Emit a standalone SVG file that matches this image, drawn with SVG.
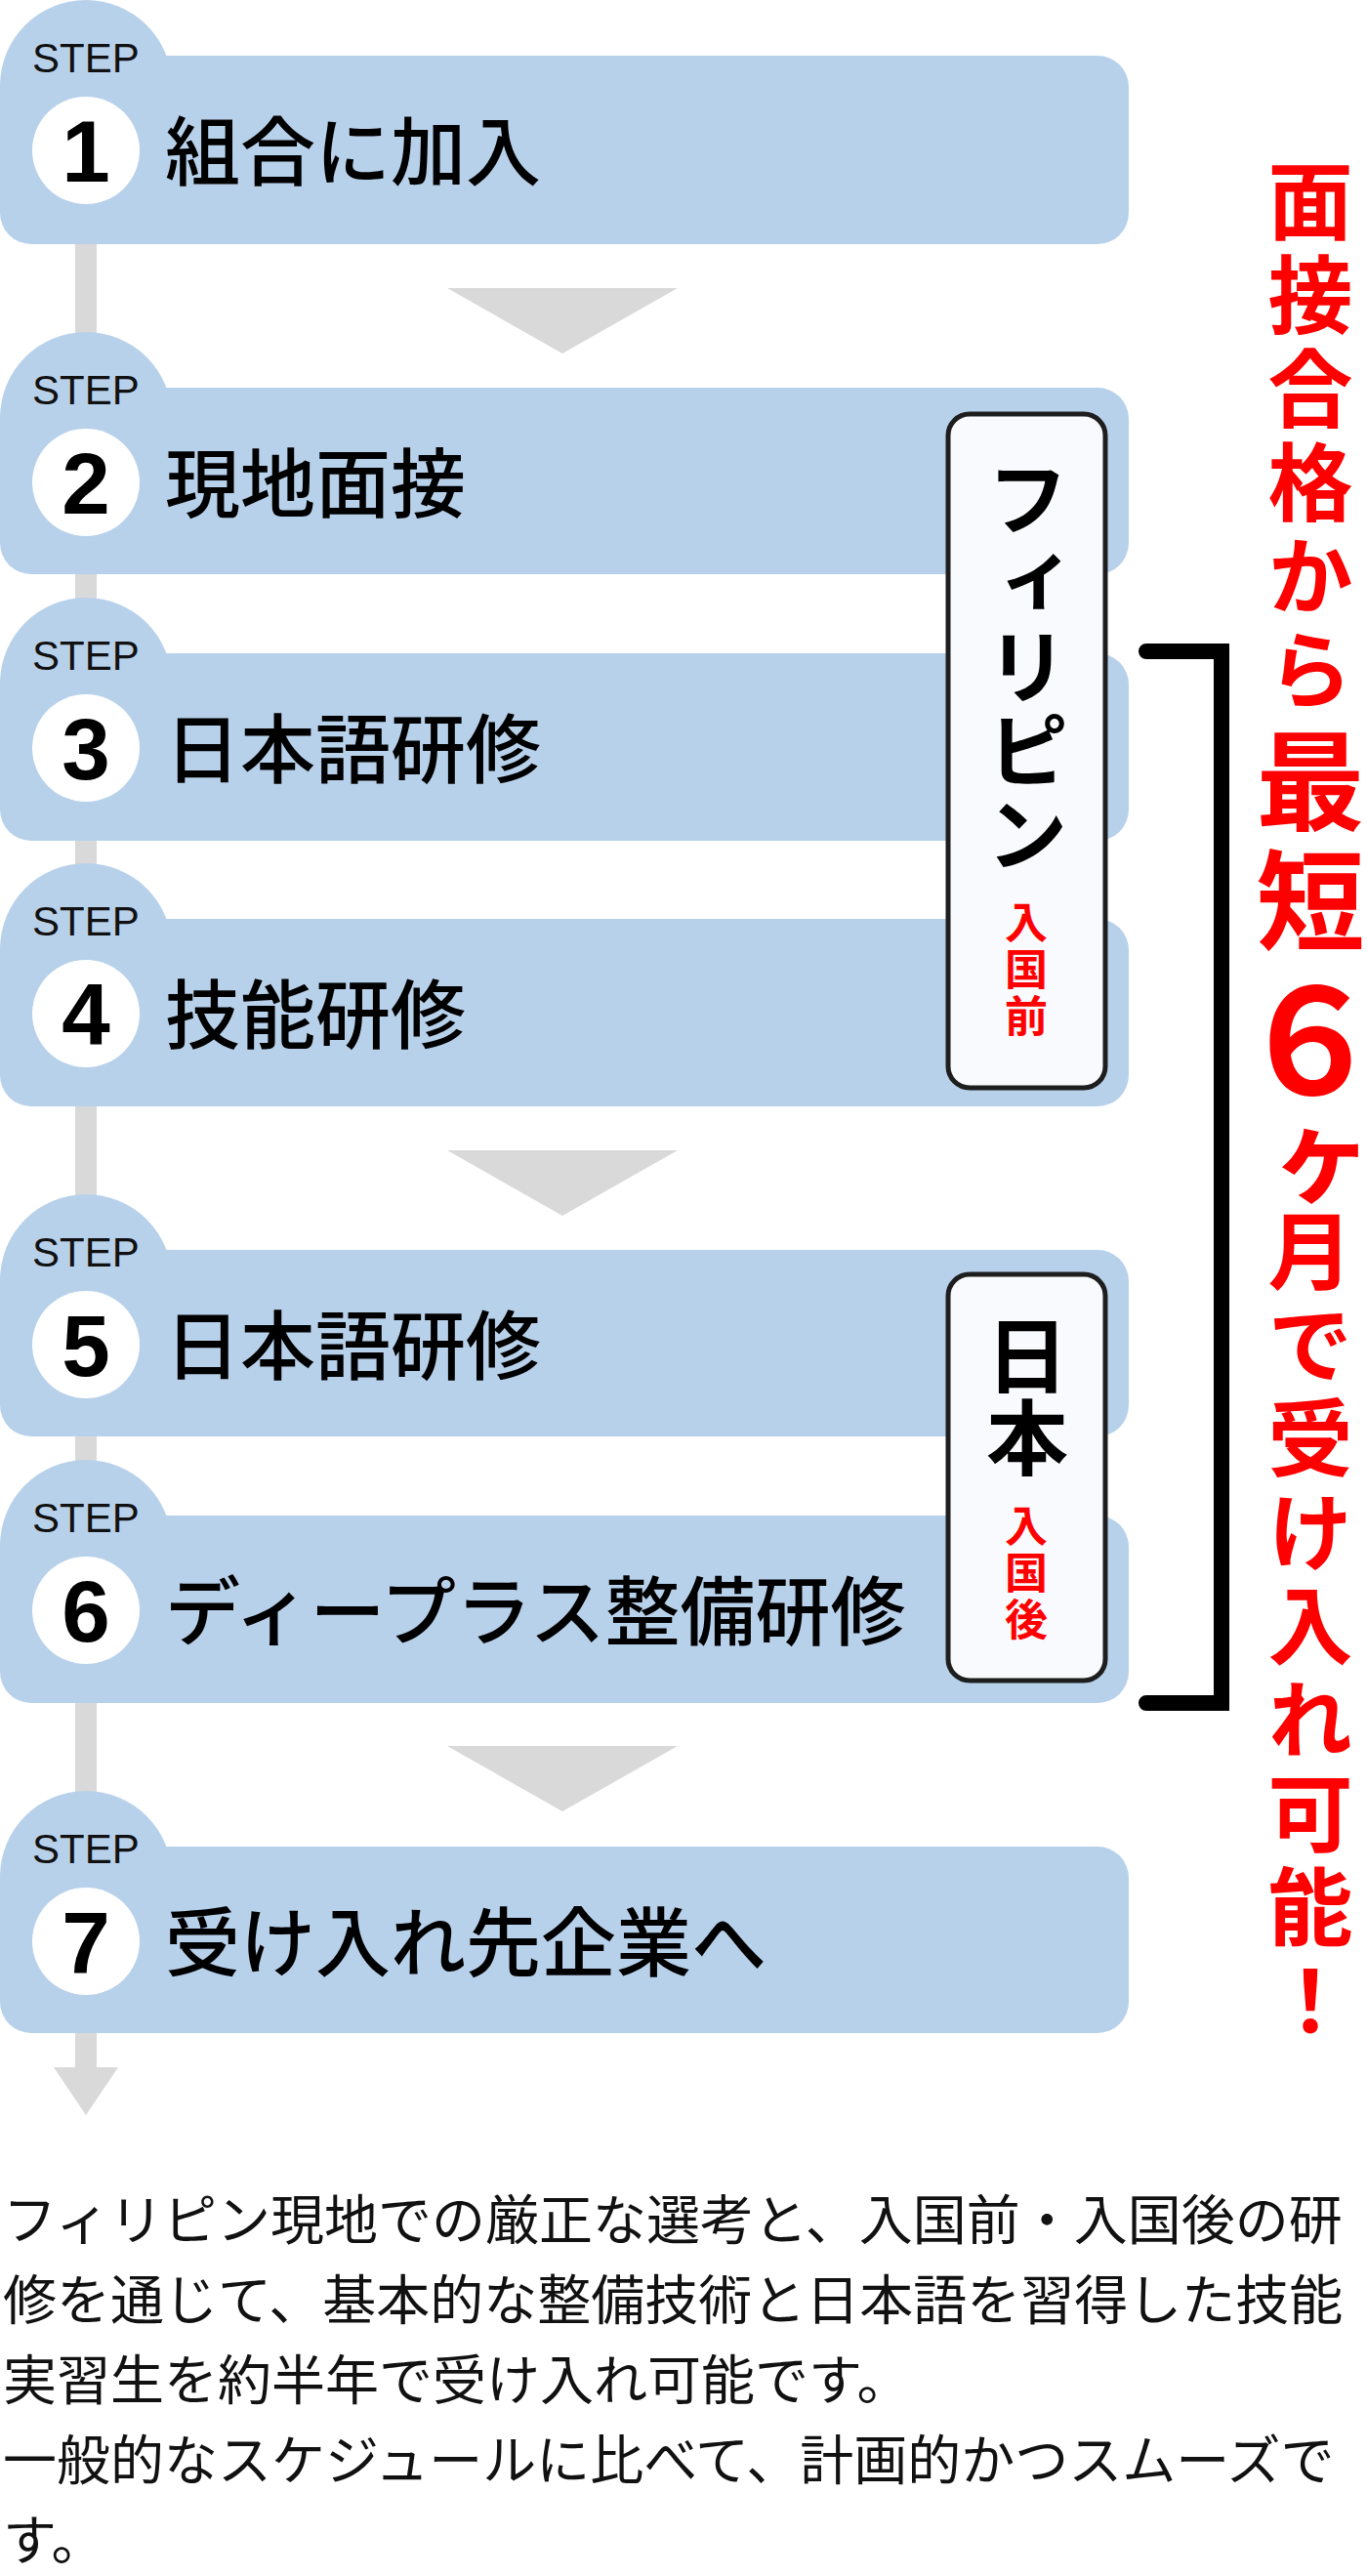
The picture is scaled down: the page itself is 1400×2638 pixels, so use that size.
<svg xmlns="http://www.w3.org/2000/svg" width="1400" height="2638" viewBox="0 0 1400 2638">
<style>
.box{fill:#b8d1eb}
.num-c{fill:#ffffff}
.step{font-family:'Liberation Sans',Arial,sans-serif;font-size:42px;fill:#111}
.num{font-family:'Liberation Sans',Arial,sans-serif;font-size:89px;font-weight:700;fill:#000;text-anchor:middle}
.title{font-family:'Noto Sans CJK JP',sans-serif;font-size:77px;font-weight:500;fill:#000}
.tag{fill:#f8fafd;stroke:#1e1e1e;stroke-width:5}
.vt{writing-mode:vertical-rl;text-anchor:start}
.tagbig{font-family:'Noto Sans CJK JP',sans-serif;font-size:84px;font-weight:700;fill:#000}
.tagsm{font-family:'Noto Sans CJK JP',sans-serif;font-size:44px;font-weight:700;fill:#ff0000;letter-spacing:4px}
.red{font-family:'Noto Sans CJK JP',sans-serif;font-weight:700;fill:#ff0000}
.m{font-size:87px;letter-spacing:9px}
.k{font-size:112px}
.l{font-size:111px;letter-spacing:11px}
.xl{font-size:150px}
.desc{font-family:'Noto Sans CJK JP',sans-serif;font-size:55px;fill:#111}
.gray{fill:#d9d9d9}
</style>
<rect width="1400" height="2638" fill="#ffffff"/>
<g id="connectors">
<rect class="gray" x="77" y="240" width="22" height="1878"/>
<polygon class="gray" points="55,2117 121,2117 88,2166"/>
<polygon class="gray" points="458,295 694,295 576,362"/>
<polygon class="gray" points="458,1178 694,1178 576,1245"/>
<polygon class="gray" points="458,1788 694,1788 576,1855"/>
</g>
<g id="step1">
<circle class="box" cx="88" cy="88" r="88"/>
<rect class="box" x="0" y="57" width="1156" height="193" rx="32"/>
<text class="step" x="33" y="74">STEP</text>
<circle class="num-c" cx="88" cy="154" r="55"/>
<text class="num" x="88" y="186">1</text>
<text class="title" x="169" y="184">組合に加入</text>
</g>
<g id="step2">
<circle class="box" cx="88" cy="428" r="88"/>
<rect class="box" x="0" y="397" width="1156" height="191" rx="32"/>
<text class="step" x="33" y="414">STEP</text>
<circle class="num-c" cx="88" cy="494" r="55"/>
<text class="num" x="88" y="526">2</text>
<text class="title" x="169" y="524">現地面接</text>
</g>
<g id="step3">
<circle class="box" cx="88" cy="700" r="88"/>
<rect class="box" x="0" y="669" width="1156" height="192" rx="32"/>
<text class="step" x="33" y="686">STEP</text>
<circle class="num-c" cx="88" cy="766" r="55"/>
<text class="num" x="88" y="798">3</text>
<text class="title" x="169" y="796">日本語研修</text>
</g>
<g id="step4">
<circle class="box" cx="88" cy="972" r="88"/>
<rect class="box" x="0" y="941" width="1156" height="192" rx="32"/>
<text class="step" x="33" y="958">STEP</text>
<circle class="num-c" cx="88" cy="1038" r="55"/>
<text class="num" x="88" y="1070">4</text>
<text class="title" x="169" y="1068">技能研修</text>
</g>
<g id="step5">
<circle class="box" cx="88" cy="1311" r="88"/>
<rect class="box" x="0" y="1280" width="1156" height="191" rx="32"/>
<text class="step" x="33" y="1297">STEP</text>
<circle class="num-c" cx="88" cy="1377" r="55"/>
<text class="num" x="88" y="1409">5</text>
<text class="title" x="169" y="1407">日本語研修</text>
</g>
<g id="step6">
<circle class="box" cx="88" cy="1583" r="88"/>
<rect class="box" x="0" y="1552" width="1156" height="192" rx="32"/>
<text class="step" x="33" y="1569">STEP</text>
<circle class="num-c" cx="88" cy="1649" r="55"/>
<text class="num" x="88" y="1681">6</text>
<text class="title" x="169" y="1679">ディープラス整備研修</text>
</g>
<g id="step7">
<circle class="box" cx="88" cy="1922" r="88"/>
<rect class="box" x="0" y="1891" width="1156" height="191" rx="32"/>
<text class="step" x="33" y="1908">STEP</text>
<circle class="num-c" cx="88" cy="1988" r="55"/>
<text class="num" x="88" y="2020">7</text>
<text class="title" x="169" y="2018">受け入れ先企業へ</text>
</g>
<g id="tag-philippines">
<rect class="tag" x="971" y="424" width="161" height="690" rx="22"/>
<text class="tagbig vt" x="1052" y="468" style="letter-spacing:2px">フィリピン</text>
<text class="tagsm vt" x="1051" y="922">入国前</text>
</g>
<g id="tag-japan">
<rect class="tag" x="971" y="1305" width="161" height="416" rx="22"/>
<text class="tagbig vt" x="1052" y="1346">日本</text>
<text class="tagsm vt" x="1051" y="1540">入国後</text>
</g>
<g id="bracket">
<path d="M1174,667 H1251 V1744 H1174" fill="none" stroke="#000" stroke-width="16" stroke-linecap="round" stroke-linejoin="miter"/>
</g>
<g id="headline">
<text class="red vt" x="1342" y="162"><tspan class="m" y="162">面接合格から</tspan><tspan class="l" y="744">最短</tspan><tspan class="xl" y="990">６</tspan><tspan class="k" y="1138">ヶ</tspan><tspan class="m" y="1237">月で受け入れ可能！</tspan></text>
</g>
<g id="description" class="desc">
<text x="3" y="2293">フィリピン現地での厳正な選考と、入国前・入国後の研</text>
<text x="3" y="2375">修を通じて、基本的な整備技術と日本語を習得した技能</text>
<text x="3" y="2457">実習生を約半年で受け入れ可能です。</text>
<text x="3" y="2539">一般的なスケジュールに比べて、計画的かつスムーズで</text>
<text x="3" y="2621">す。</text>
</g>
</svg>
